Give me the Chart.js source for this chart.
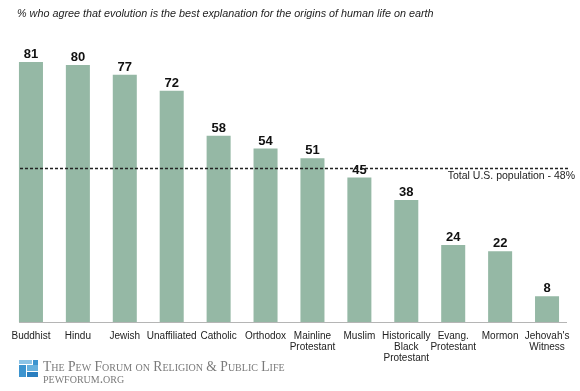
<!DOCTYPE html>
<html>
<head>
<meta charset="utf-8">
<script src="https://cdn.jsdelivr.net/npm/chart.js@4.4.0/dist/chart.umd.min.js"></script>
<style>
	body { margin: 0; background: #fff; }
	#wrap { position: relative; width: 580px; height: 391px; }
	#footer {
		position: absolute;
		left: 43px;
		top: 361px;
		font-family: 'Liberation Serif', 'DejaVu Serif', serif;
		font-variant: small-caps;
		color: #7a7a7a;
		font-size: 13.6px;
		line-height: 11.5px;
		white-space: nowrap;
	}
</style>
</head>
<body>
<div id="wrap">
	<canvas id="canvas" width="580" height="391"></canvas>
	<div id="footer">
		<div>The Pew Forum on Religion &amp; Public Life</div>
		<div>pewforum.org</div>
	</div>
</div>
<script>
const canvas = document.getElementById('canvas');
const ctx = canvas.getContext('2d');

const categories = [
	['Buddhist'],
	['Hindu'],
	['Jewish'],
	['Unaffiliated'],
	['Catholic'],
	['Orthodox'],
	['Mainline', 'Protestant'],
	['Muslim'],
	['Historically', 'Black', 'Protestant'],
	['Evang.', 'Protestant'],
	['Mormon'],
	["Jehovah's", 'Witness'],
];
const values = [81, 80, 77, 72, 58, 54, 51, 45, 38, 24, 22, 8];

const totalPopulation = 48;
const totalLabel = 'Total U.S. population - 48%';
const titleText = '% who agree that evolution is the best explanation for the origins of human life on earth';

const barColor = '#95b8a5';
const font = "'Liberation Sans', Arial, sans-serif";

// title, reference line, value labels and the logo
const overlay = {
	id: 'overlay',
	beforeDraw(chart) {
		const c = chart.ctx;
		c.save();
		c.fillStyle = '#fff';
		c.fillRect(0, 0, chart.width, chart.height);
		c.fillStyle = '#222';
		c.font = 'italic 10.8px ' + font;
		c.textAlign = 'left';
		c.textBaseline = 'middle';
		c.fillText(titleText, 17, 14);
		c.restore();
	},
	afterDatasetsDraw(chart) {
		const c = chart.ctx;
		const area = chart.chartArea;
		const meta = chart.getDatasetMeta(0);

		c.save();
		// baseline
		c.strokeStyle = '#b5b5b5';
		c.lineWidth = 1;
		c.beginPath();
		c.moveTo(19, area.bottom + 0.5);
		c.lineTo(567, area.bottom + 0.5);
		c.stroke();

		// value labels
		c.fillStyle = '#111';
		c.font = 'bold 13px ' + font;
		c.textAlign = 'center';
		c.textBaseline = 'alphabetic';
		meta.data.forEach((bar, i) => {
			c.fillText(values[i], bar.x, bar.y - 4);
		});

		// total population line
		const y = Math.round(chart.scales.y.getPixelForValue(totalPopulation)) + 0.5;
		c.strokeStyle = '#222';
		c.lineWidth = 1.5;
		c.setLineDash([3, 2]);
		c.beginPath();
		c.moveTo(20, y);
		c.lineTo(568, y);
		c.stroke();
		c.setLineDash([]);

		c.fillStyle = '#222';
		c.font = '10.5px ' + font;
		c.textAlign = 'right';
		c.textBaseline = 'middle';
		c.fillText(totalLabel, 575, y + 8);

		// logo
		c.fillStyle = '#8cc4e6';
		c.fillRect(19, 360, 13, 4);
		c.fillStyle = '#3c94cf';
		c.fillRect(33, 360, 5, 5);
		c.fillRect(19, 365, 7, 12);
		c.fillStyle = '#67b1de';
		c.fillRect(27, 365, 11, 6);
		c.fillStyle = '#2a7fc0';
		c.fillRect(27, 372, 11, 5);
		c.restore();
	},
};

const chart = new Chart(canvas, {
	type: 'bar',
	data: {
		labels: categories,
		datasets: [
			{
				data: values,
				backgroundColor: barColor,
				borderWidth: 0,
				barPercentage: 0.512,
				categoryPercentage: 1,
			},
		],
	},
	options: {
		responsive: false,
		animation: false,
		events: [],
		layout: { padding: { top: 33, left: 7.5, right: 9.5, bottom: 0 } },
		plugins: {
			legend: { display: false },
			tooltip: { enabled: false },
		},
		scales: {
			x: {
				grid: { display: false, drawTicks: false },
				border: { display: false },
				ticks: {
					color: '#222',
					font: { family: font, size: 10, lineHeight: 1.1 },
					padding: 9,
					maxRotation: 0,
					autoSkip: false,
				},
				afterFit(scale) {
					scale.height = 69;
				},
			},
			y: {
				display: false,
				min: 0,
				max: 90,
			},
		},
	},
	plugins: [overlay],
});
</script>
</body>
</html>
